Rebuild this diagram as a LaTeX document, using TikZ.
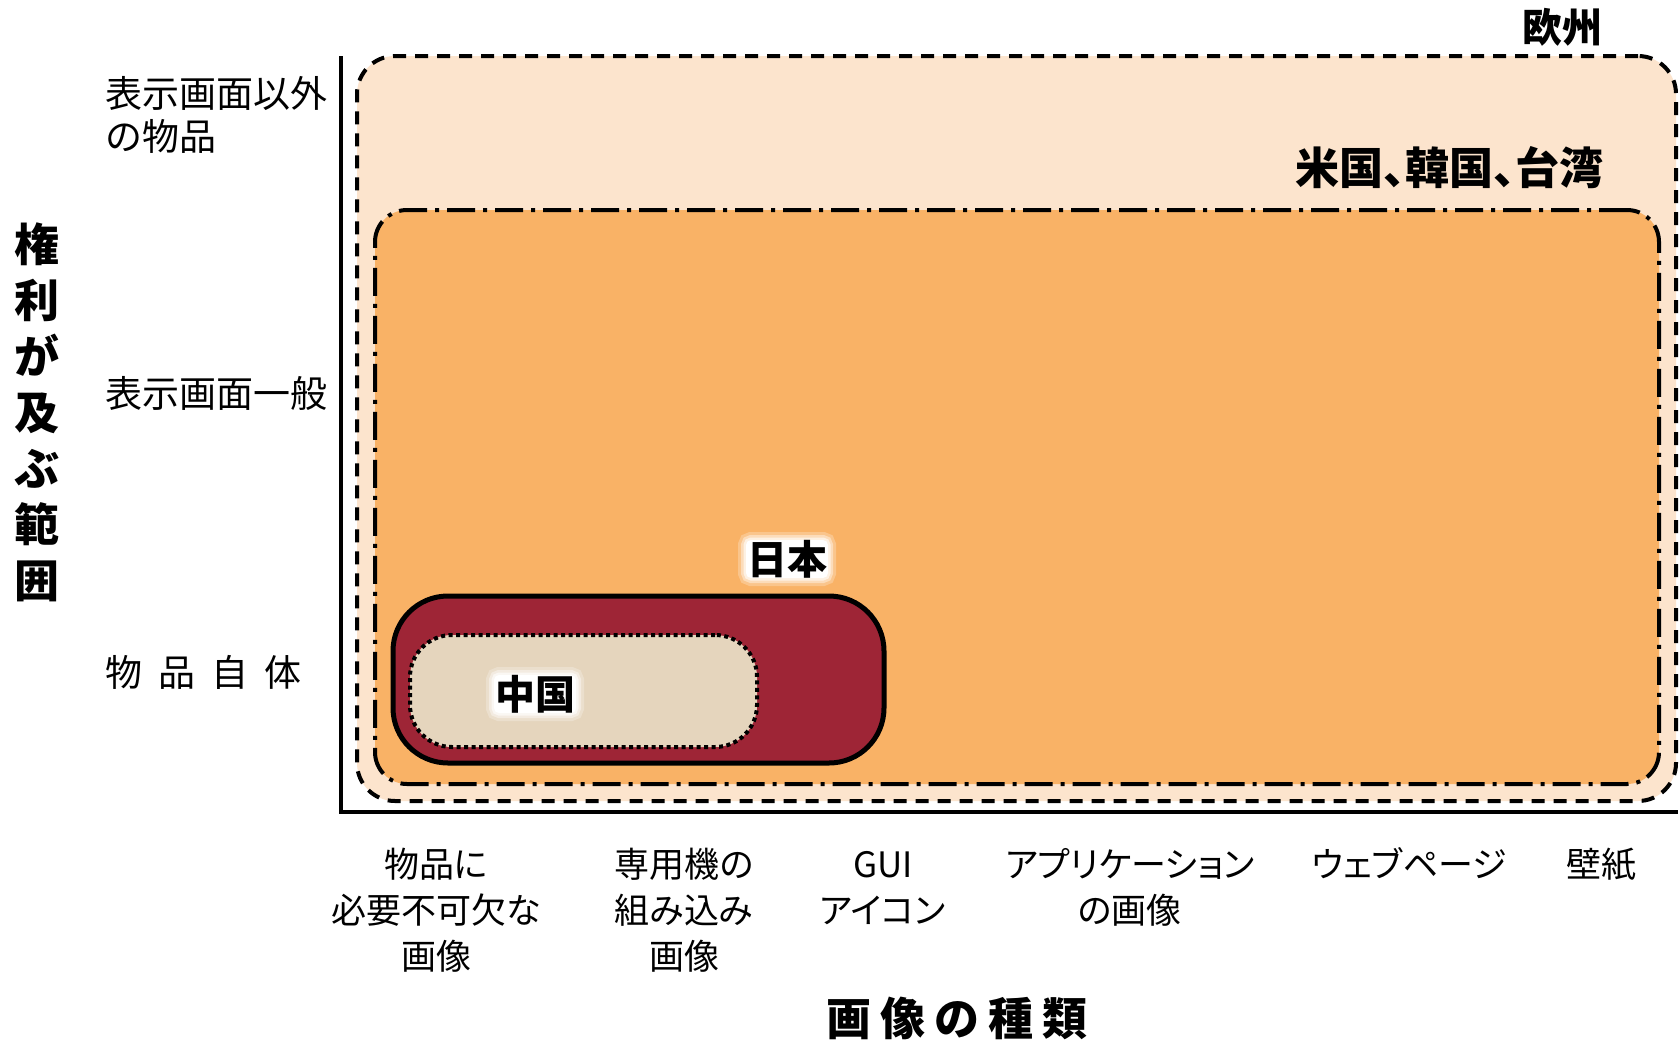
\documentclass[tikz,border=0pt]{standalone}
\usepackage{fontspec}
\setmainfont{Noto Sans CJK JP}
\newfontfamily\jpp[RawFeature=+palt]{Noto Sans CJK JP}
\usetikzlibrary{calc}
\definecolor{eufill}{HTML}{FCE4CD}
\definecolor{usfill}{HTML}{F9B266}
\definecolor{jpfill}{HTML}{9E2536}
\definecolor{cnfill}{HTML}{E5D5BD}
\tikzset{
  region/.style={inner sep=0pt, outer sep=0pt},
  eubox/.style={region, draw=black, fill=eufill, line width=4pt, dash pattern=on 13pt off 9pt, rounded corners=38pt},
  usbox/.style={region, draw=black, fill=usfill, line width=4pt, dash pattern=on 28pt off 8pt on 4pt off 8pt, rounded corners=32pt},
  jpbox/.style={region, draw=black, fill=jpfill, line width=5pt, rounded corners=55pt},
  cnbox/.style={region, draw=black, fill=cnfill, line width=4pt, dash pattern=on 4pt off 3.5pt, rounded corners=42pt},
  axis/.style={line width=4pt},
  ylab/.style={inner sep=0pt, anchor=base west, align=left, font=\fontsize{37}{43}\selectfont},
  xlab/.style={inner sep=0pt, anchor=base, align=center, font=\jpp\fontsize{35}{46}\selectfont},
  title/.style={inner sep=0pt, font=\bfseries\fontsize{45}{56}\selectfont},
  region label/.style={inner sep=0pt, font=\bfseries\fontsize{40}{48}\selectfont},
  glow/.style={region label, inner xsep=1pt, inner ysep=0pt, rounded corners=5pt,
    preaction={draw=white, line width=16pt, draw opacity=0.25},
    preaction={draw=white, line width=10pt, draw opacity=0.4},
    preaction={draw=white, line width=5pt, draw opacity=0.6},
    fill=white},
}
\begin{document}
\begin{tikzpicture}[x=1pt,y=-1pt]
\useasboundingbox (0,0) rectangle (1680,1044);
\fill[white] (0,0) rectangle (1680,1044);
% regions
\node[eubox, minimum width=1319pt, minimum height=745pt] (eu) at (1016.5,428.5) {};
\node[usbox, minimum width=1284pt, minimum height=574pt] (us) at (1017,497) {};
\node[jpbox, minimum width=491pt, minimum height=167pt] (jp) at (638.5,679.5) {};
\node[cnbox, minimum width=347pt, minimum height=112pt] (cn) at (583.5,691) {};
% axes
\coordinate (top) at (341,56);
\coordinate (origin) at (341,812);
\coordinate (right) at (1678,812);
\draw[axis] (top) -- (origin) -- (right);
% region labels
\node[region label, font=\bfseries\fontsize{40}{48}\selectfont] (eulab) at (1562,27) {欧州};
\node[region label, anchor=east, font=\jpp\bfseries\fontsize{44}{50}\selectfont] (uslab) at (1604,168) {米国、韓国、台湾};
\node[glow] (jplab) at (787,559) {日本};
\node[glow] (cnlab) at (535,694) {中国};
% y labels
\node[ylab] (y3) at (105,150) {表示画面以外\\の物品};
\node[ylab] (y2) at (105,407) {表示画面一般};
\node[ylab] (y1) at (105,686) {物\hspace{16pt}品\hspace{16pt}自\hspace{16pt}体};
% x labels (base = last line)
\node[xlab] (x1) at (436,969) {物品に\\必要不可欠な\\画像};
\node[xlab] (x2) at (684,969) {専用機の\\組み込み\\画像};
\node[xlab] (x3) at (883,923) {GUI\\アイコン};
\node[xlab] (x4) at (1130,923) {アプリケーション\\の画像};
\node[xlab] (x5) at (1409,877) {ウェブページ};
\node[xlab] (x6) at (1601,877) {壁紙};
% axis titles
\node[title, anchor=base, align=center] (ytitle) at (37,597) {権\\利\\が\\及\\ぶ\\範\\囲};
\node[title, anchor=base] (xtitle) at (957,1035) {画\hspace{9pt}像\hspace{9pt}の\hspace{9pt}種\hspace{9pt}類};
\end{tikzpicture}
\end{document}
